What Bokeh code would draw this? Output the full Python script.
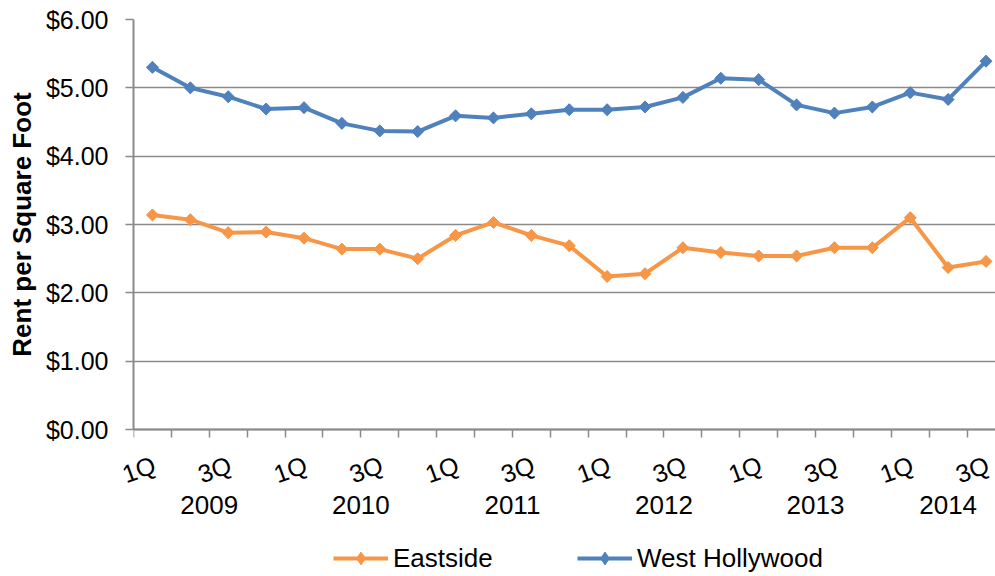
import numpy as np
from bokeh.plotting import figure
from bokeh.models import (Range1d, FixedTicker, NumeralTickFormatter, Legend, LegendItem,
                          ColumnDataSource, CustomJSTickFormatter)
from bokeh.core.properties import value
from bokeh.embed import file_html
from bokeh.resources import INLINE

# ---------------- data ----------------
years = ["2009", "2010", "2011", "2012", "2013", "2014"]
quarters_per_year = [4, 4, 4, 4, 4, 3]
quarter_names = ["1Q", "2Q", "3Q", "4Q"]
shown_quarters = ["1Q", "3Q"]
eastside = [3.14, 3.07, 2.88, 2.89, 2.80, 2.64, 2.64, 2.50, 2.84, 3.03, 2.84, 2.69,
            2.24, 2.28, 2.66, 2.59, 2.54, 2.54, 2.66, 2.66, 3.10, 2.37, 2.46]
west_hollywood = [5.30, 5.00, 4.87, 4.69, 4.71, 4.48, 4.37, 4.36, 4.59, 4.56, 4.62, 4.68,
                  4.68, 4.72, 4.86, 5.14, 5.12, 4.75, 4.63, 4.72, 4.93, 4.83, 5.39]
y_ticks = [0, 1, 2, 3, 4, 5, 6]
series_names = ["Eastside", "West Hollywood"]
y_title = "Rent per Square Foot"

# ---------------- derived ----------------
cat_quarter = []
cat_year = []
for yr, nq in zip(years, quarters_per_year):
    for q in range(nq):
        cat_quarter.append(quarter_names[q])
        cat_year.append(yr)
n = len(cat_quarter)
xc = [i + 0.5 for i in range(n)]

FONT = "Liberation Sans"
GRAY = "#8a8a8a"
BLUE = "#4F81BD"
ORANGE = "#F79646"

# frame spans below the value axis so that category labels and legend live inside it
p = figure(width=995, height=576,
           x_range=Range1d(0, 22.75), y_range=Range1d(-2.151, 6),
           x_axis_location="above",
           output_backend="svg", toolbar_location=None,
           min_border_left=133, min_border_right=0, min_border_top=19, min_border_bottom=0)
p.title.visible = False
p.outline_line_color = None
p.background_fill_color = "white"
p.border_fill_color = "white"

# grid
p.xgrid.visible = False
p.ygrid.ticker = FixedTicker(ticks=y_ticks)
p.ygrid.grid_line_color = GRAY
p.ygrid.grid_line_width = 1.5

# y axis
p.yaxis.ticker = FixedTicker(ticks=y_ticks)
p.yaxis.bounds = (y_ticks[0], y_ticks[-1])
p.yaxis.formatter = NumeralTickFormatter(format="$0.00")
p.yaxis.major_label_text_font = FONT
p.yaxis.major_label_text_font_size = "25px"
p.yaxis.major_label_text_color = "black"
p.yaxis.major_label_standoff = 17
p.yaxis.major_tick_out = 8
p.yaxis.major_tick_in = 0
p.yaxis.minor_tick_line_color = None
p.yaxis.axis_line_color = GRAY
p.yaxis.axis_line_width = 2
p.yaxis.major_tick_line_color = GRAY
p.yaxis.major_tick_line_width = 1.5

# y axis title, centred on the value axis span
p.text(x=[0], y=[(y_ticks[0] + y_ticks[-1]) / 2], text=[y_title], angle=np.pi / 2,
       text_align="center", text_baseline="middle", x_offset=-112,
       text_font=value(FONT), text_font_size="26px", text_font_style="bold",
       text_color="black", level="overlay")

# x axis: drawn at value 0, tick marks at category boundaries pointing down
xa = p.xaxis[0]
xa.fixed_location = 0
xa.ticker = FixedTicker(ticks=list(range(0, n + 1)))
xa.formatter = CustomJSTickFormatter(code="return ''")
xa.major_label_text_font_size = "1px"
xa.major_label_standoff = 0
xa.major_tick_out = 0
xa.major_tick_in = 8
xa.minor_tick_line_color = None
xa.axis_line_color = GRAY
xa.axis_line_width = 2
xa.major_tick_line_color = GRAY
xa.major_tick_line_width = 1.5

# series
src = ColumnDataSource(dict(x=xc, e=eastside, w=west_hollywood))
re_l = p.line("x", "e", source=src, line_color=ORANGE, line_width=4, line_join="round")
re_m = p.scatter("x", "e", source=src, marker="square", angle=np.pi / 4, size=8.5,
                 fill_color=ORANGE, line_color=ORANGE)
re_d = p.scatter("x", "e", source=src, marker="diamond", size=11,
                 fill_color=ORANGE, line_color=ORANGE)
rw_l = p.line("x", "w", source=src, line_color=BLUE, line_width=4, line_join="round")
rw_m = p.scatter("x", "w", source=src, marker="square", angle=np.pi / 4, size=8.5,
                 fill_color=BLUE, line_color=BLUE)
rw_d = p.scatter("x", "w", source=src, marker="diamond", size=11,
                 fill_color=BLUE, line_color=BLUE)

# quarter labels (rotated)
qx = [xc[i] for i in range(n) if cat_quarter[i] in shown_quarters]
qt = [cat_quarter[i] for i in range(n) if cat_quarter[i] in shown_quarters]
p.text(x=qx, y=[0] * len(qx), text=qt, angle=0.35, text_align="right", text_baseline="middle",
       x_offset=2, y_offset=34, text_font=value(FONT), text_font_size="25px",
       text_color="black", level="overlay")

# year labels (group centres)
yx = []
start = 0
for nq in quarters_per_year:
    yx.append(start + nq / 2)
    start += nq
p.text(x=yx, y=[0] * len(yx), text=years, text_align="center", text_baseline="middle",
       y_offset=75, text_font=value(FONT), text_font_size="26px",
       text_color="black", level="overlay")

legend = Legend(items=[LegendItem(label=series_names[0], renderers=[re_l, re_d]),
                       LegendItem(label=series_names[1], renderers=[rw_l, rw_d])],
                orientation="horizontal", location=(200, 2),
                glyph_width=55, glyph_height=32, label_height=32, label_width=184,
                label_standoff=5, spacing=0, padding=0, margin=0,
                border_line_color=None, background_fill_alpha=0,
                label_text_font=FONT, label_text_font_size="26px", label_text_color="black")
p.add_layout(legend)

open("out.html", "w").write(file_html(p, INLINE))
